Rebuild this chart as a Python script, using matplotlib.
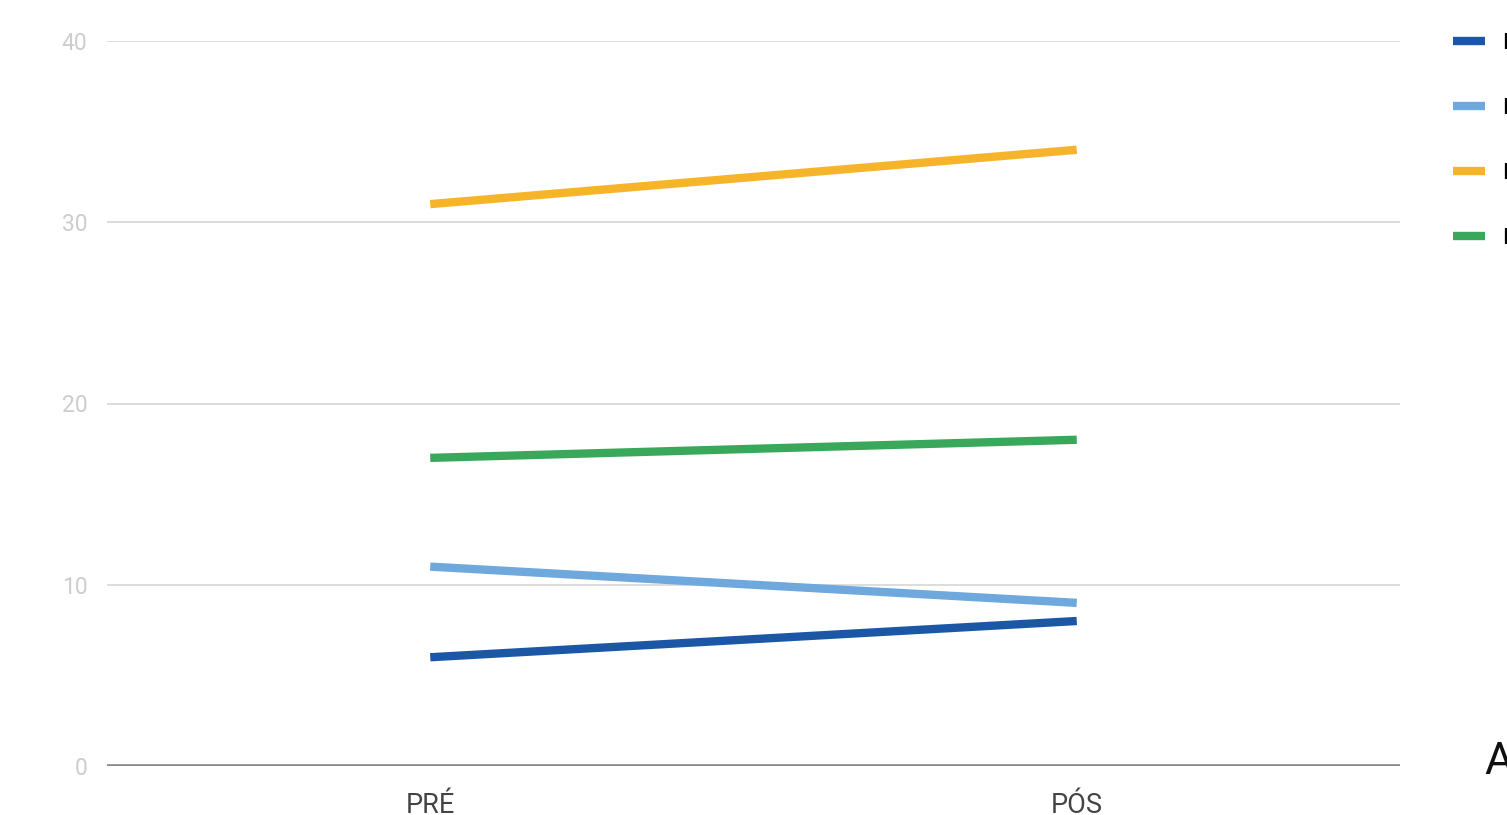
import matplotlib
matplotlib.use('Agg')
import matplotlib.pyplot as plt

plt.rcParams['font.family'] = ['Roboto', 'DejaVu Sans']

# pre / post scores per group
periods = ['PRÉ', 'PÓS']
series_names = ['B', 'D', 'E', 'F']
dark_blue = [6, 8]
light_blue = [11, 9]
yellow = [31, 34]
green = [17, 18]
y_ticks = [0, 10, 20, 30, 40]

COLORS = ['#1c57a5', '#6fa8dc', '#f6b42a', '#3aa85a']
WIDTHS = [3.6, 3.2, 2.8, 2.3]

fig = plt.figure(figsize=(15.07, 8.15), dpi=100)
ax = fig.add_axes([107 / 1507, 1 - 766 / 815, 1293 / 1507, 725 / 815])

x = list(range(len(periods)))
for vals, color, lw, name in zip([dark_blue, light_blue, yellow, green],
                                 COLORS, WIDTHS, series_names):
    ax.plot(x, vals, color=color, linewidth=lw, solid_capstyle='butt',
            label=name, zorder=3)

ax.set_xlim(-0.5, 1.5)
ax.set_ylim(0, 40)
ax.set_yticks(y_ticks)
ax.set_yticklabels([str(t) for t in y_ticks], color='#cdcdcd', fontsize=16.5)
ax.set_xticks(x)
ax.set_xticklabels(periods, color='#444444', fontsize=19.5)
ax.tick_params(axis='both', length=0)
ax.tick_params(axis='y', pad=14)
ax.tick_params(axis='x', pad=19)

for t in y_ticks[1:]:
    ax.axhline(t, color='#dddddd', linewidth=1.4, zorder=1)
ax.axhline(0, color='#888888', linewidth=2.6, zorder=2)

for side in ['top', 'right', 'left', 'bottom']:
    ax.spines[side].set_visible(False)

handles, labels = ax.get_legend_handles_labels()
for h in handles:
    h.set_linewidth(6)
fig.legend(handles, labels, loc='upper left',
           bbox_to_anchor=(1444 / 1507, 1 - 24 / 815),
           fontsize=16, frameon=False, handlelength=1.45,
           handletextpad=0.75, labelspacing=1.98, borderaxespad=0)

fig.text(1484 / 1507, 1 - 774 / 815, 'A', fontsize=32, color='#111111',
         ha='left', va='baseline')

fig.savefig('out.png', dpi=100)
